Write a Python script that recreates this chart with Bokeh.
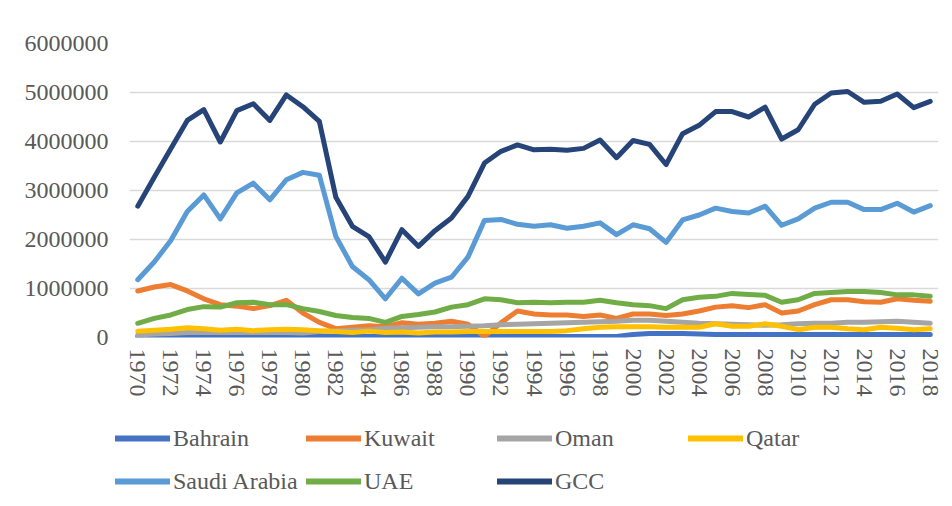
from bokeh.plotting import figure
from bokeh.layouts import column
from bokeh.models import Range1d, FixedTicker, NumeralTickFormatter, Legend, LegendItem
from bokeh.embed import file_html
from bokeh.resources import INLINE

years = list(range(1970, 2019))
year_ticks = list(range(1970, 2019, 2))
y_ticks = [0, 1000000, 2000000, 3000000, 4000000, 5000000, 6000000]

bahrain = [20000, 20000, 20000, 20000, 20000, 20000, 20000, 20000, 20000, 20000,
           20000, 20000, 20000, 20000, 20000, 20000, 20000, 20000, 20000, 20000,
           20000, 20000, 20000, 20000, 20000, 20000, 20000, 20000, 20000, 20000,
           60000, 80000, 80000, 80000, 70000, 60000, 60000, 60000, 60000, 60000,
           60000, 60000, 60000, 60000, 60000, 60000, 60000, 60000, 60000]
kuwait = [950000, 1030000, 1080000, 950000, 790000, 670000, 640000, 590000, 650000, 760000,
          500000, 310000, 180000, 210000, 240000, 220000, 300000, 270000, 290000, 330000,
          270000, 20000, 300000, 540000, 480000, 460000, 460000, 430000, 460000, 390000,
          480000, 480000, 450000, 480000, 540000, 620000, 650000, 610000, 670000, 500000,
          540000, 670000, 770000, 770000, 730000, 720000, 790000, 760000, 740000]
oman = [50000, 70000, 80000, 100000, 100000, 100000, 100000, 100000, 100000, 100000,
        90000, 120000, 140000, 150000, 160000, 190000, 200000, 210000, 220000, 220000,
        230000, 240000, 260000, 270000, 280000, 290000, 300000, 310000, 320000, 330000,
        350000, 350000, 330000, 310000, 290000, 280000, 270000, 260000, 250000, 260000,
        280000, 290000, 290000, 310000, 310000, 320000, 330000, 310000, 290000]
qatar = [130000, 150000, 170000, 200000, 180000, 150000, 170000, 140000, 160000, 170000,
         160000, 140000, 120000, 100000, 130000, 100000, 110000, 90000, 110000, 110000,
         120000, 120000, 120000, 120000, 120000, 120000, 140000, 180000, 210000, 220000,
         220000, 220000, 210000, 210000, 210000, 280000, 230000, 230000, 280000, 230000,
         160000, 210000, 210000, 180000, 160000, 210000, 190000, 160000, 180000]
saudi = [1180000, 1540000, 1980000, 2570000, 2910000, 2420000, 2950000, 3150000, 2810000, 3220000,
         3370000, 3310000, 2060000, 1450000, 1180000, 790000, 1210000, 890000, 1110000, 1230000,
         1640000, 2390000, 2410000, 2310000, 2270000, 2300000, 2230000, 2270000, 2340000, 2100000,
         2300000, 2220000, 1940000, 2400000, 2500000, 2640000, 2570000, 2540000, 2680000, 2290000,
         2420000, 2640000, 2760000, 2760000, 2610000, 2610000, 2740000, 2560000, 2690000]
uae = [290000, 390000, 460000, 570000, 630000, 620000, 710000, 720000, 670000, 670000,
       590000, 530000, 450000, 410000, 390000, 310000, 430000, 470000, 520000, 620000,
       670000, 790000, 770000, 710000, 720000, 710000, 720000, 720000, 760000, 710000,
       670000, 650000, 590000, 770000, 820000, 840000, 900000, 880000, 860000, 720000,
       770000, 900000, 920000, 940000, 940000, 920000, 870000, 870000, 840000]
gcc = [2680000, 3270000, 3850000, 4430000, 4650000, 3990000, 4630000, 4770000, 4430000, 4950000,
       4710000, 4410000, 2860000, 2270000, 2060000, 1540000, 2200000, 1860000, 2180000, 2440000,
       2880000, 3560000, 3800000, 3930000, 3830000, 3840000, 3820000, 3860000, 4030000, 3670000,
       4020000, 3940000, 3530000, 4160000, 4330000, 4610000, 4610000, 4500000, 4700000, 4050000,
       4240000, 4760000, 4990000, 5020000, 4800000, 4820000, 4970000, 4690000, 4820000]

series_names = ["Bahrain", "Kuwait", "Oman", "Qatar", "Saudi Arabia", "UAE", "GCC"]
series_values = [bahrain, kuwait, oman, qatar, saudi, uae, gcc]
series_colors = ["#4472C4", "#ED7D31", "#A5A5A5", "#FFC000", "#5B9BD5", "#70AD47", "#264478"]

FONT = "Liberation Serif"
TEXT_COLOR = "#595959"
LW = 5

p = figure(width=944, height=410, output_backend="svg", toolbar_location=None,
           x_range=Range1d(1969.5, 2018.5), y_range=Range1d(0, 6000000),
           min_border_left=129, min_border_right=6, min_border_top=43, min_border_bottom=73)
p.frame_align = False
p.outline_line_color = None
p.background_fill_color = "white"
p.border_fill_color = "white"

p.xaxis.ticker = FixedTicker(ticks=year_ticks)
p.xaxis.major_label_orientation = "vertical"
p.xaxis.major_label_text_font = FONT
p.xaxis.major_label_text_font_size = "24px"
p.xaxis.major_label_text_color = TEXT_COLOR
p.xaxis.major_label_standoff = 11
p.xaxis.axis_line_color = None
p.xaxis.major_tick_line_color = None
p.xaxis.minor_tick_line_color = None
p.xaxis.major_tick_out = 0
p.xaxis.major_tick_in = 0

p.yaxis.ticker = FixedTicker(ticks=y_ticks)
p.yaxis.formatter = NumeralTickFormatter(format="0")
p.yaxis.major_label_text_font = FONT
p.yaxis.major_label_text_font_size = "24px"
p.yaxis.major_label_text_color = TEXT_COLOR
p.yaxis.major_label_standoff = 21
p.yaxis.axis_line_color = None
p.yaxis.major_tick_line_color = None
p.yaxis.minor_tick_line_color = None
p.yaxis.major_tick_out = 0
p.yaxis.major_tick_in = 0

p.xgrid.grid_line_color = None
p.ygrid.ticker = FixedTicker(ticks=y_ticks)
p.ygrid.grid_line_color = "#d9d9d9"
p.ygrid.grid_line_width = 1.5

for name, vals, col in zip(series_names, series_values, series_colors):
    p.line(years, vals, line_color=col, line_width=LW,
           line_join="round", line_cap="round")

# legend strip (separate figure below the chart); its series lie outside its view
lg = figure(width=944, height=88, output_backend="svg", toolbar_location=None,
            x_range=Range1d(0, 1), y_range=Range1d(0, 1),
            x_axis_location=None, y_axis_location=None,
            min_border_left=0, min_border_right=0, min_border_top=0, min_border_bottom=0)
lg.frame_align = False
lg.outline_line_color = None
lg.grid.visible = False
lg.background_fill_color = "white"
lg.border_fill_color = "white"

items = []
for name, vals, col in zip(series_names, series_values, series_colors):
    r = lg.line(years, vals, line_color=col, line_width=LW + 1, line_cap="round")
    items.append(LegendItem(label=name, renderers=[r]))

common = dict(orientation="horizontal", glyph_width=55, glyph_height=30, label_height=30,
              label_width=133, label_standoff=3, spacing=0, padding=0, margin=0,
              label_text_font=FONT, label_text_font_size="24px",
              label_text_color=TEXT_COLOR, border_line_color=None,
              background_fill_alpha=0)
legend1 = Legend(items=items[:4], location=(115, 45), **common)
legend2 = Legend(items=items[4:], location=(115, 2), **common)
lg.add_layout(legend1, "center")
lg.add_layout(legend2, "center")

layout = column(p, lg, spacing=0)
open("out.html", "w").write(file_html(layout, INLINE))
